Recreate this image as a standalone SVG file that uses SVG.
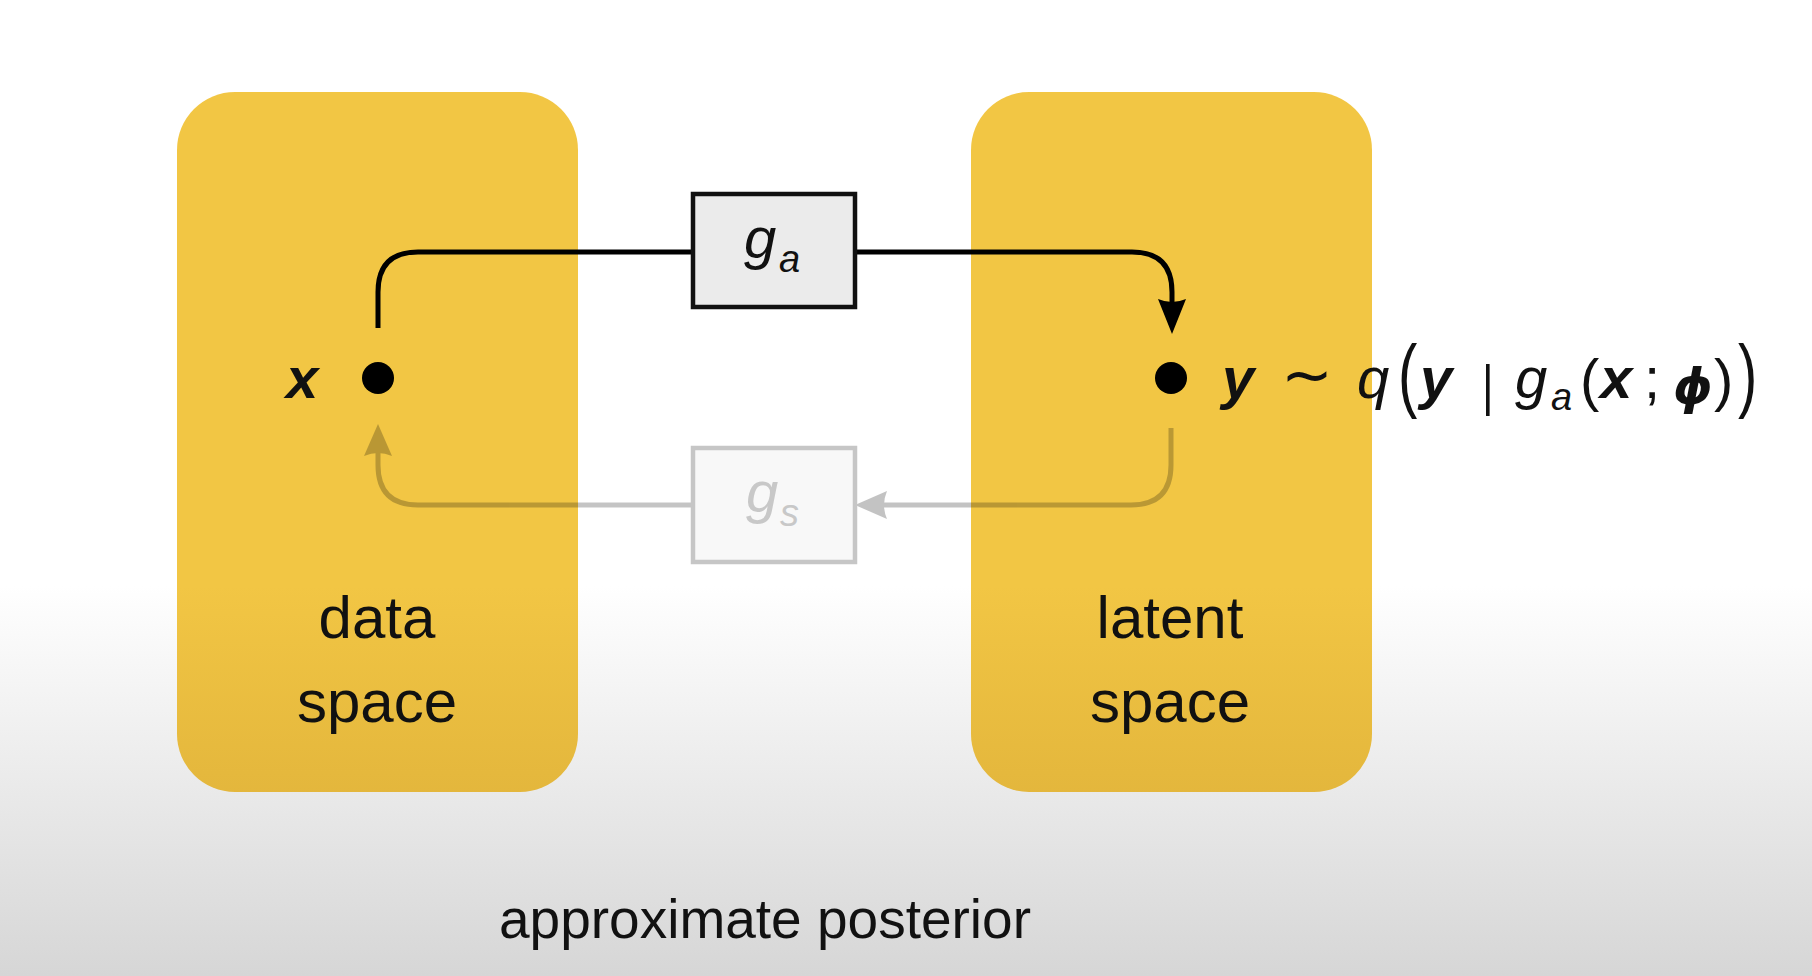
<svg xmlns="http://www.w3.org/2000/svg" width="1812" height="976" viewBox="0 0 1812 976">
<defs>
<linearGradient id="bg" gradientUnits="userSpaceOnUse" x1="0" y1="0" x2="0" y2="976">
<stop offset="0" stop-color="#ffffff"/>
<stop offset="0.6" stop-color="#ffffff"/>
<stop offset="1" stop-color="#d6d6d6"/>
</linearGradient>
<linearGradient id="yel" gradientUnits="userSpaceOnUse" x1="0" y1="0" x2="0" y2="976">
<stop offset="0" stop-color="#f2c644"/>
<stop offset="0.6" stop-color="#f2c644"/>
<stop offset="0.82" stop-color="#e3b63c"/>
<stop offset="1" stop-color="#d9ad36"/>
</linearGradient>
<style>
.space{fill:url(#yel);}
.lbl{font-family:"Liberation Sans",Arial,sans-serif;font-size:60px;fill:#111;text-anchor:middle;}
.math{font-family:"Liberation Sans",Arial,sans-serif;font-size:58px;fill:#111;}
.it{font-style:italic;}
.bi{font-style:italic;font-weight:bold;}
.dot{fill:#000;}
.line{fill:none;stroke:#000;stroke-width:5;}
.head{fill:#000;}
</style>
</defs>
<rect x="0" y="0" width="1812" height="976" fill="url(#bg)"/>

<g id="data-space">
<rect class="space" x="177" y="92" width="401" height="700" rx="58" ry="58"/>
<text class="lbl" x="377" y="638">data</text>
<text class="lbl" x="377" y="722">space</text>
</g>

<g id="latent-space">
<rect class="space" x="971" y="92" width="401" height="700" rx="58" ry="58"/>
<text class="lbl" x="1170" y="638">latent</text>
<text class="lbl" x="1170" y="722">space</text>
</g>

<g id="connectors">
<g id="encode">
<path class="line" d="M378,328 V292 Q378,252 418,252 H693"/>
<path class="line" d="M855,252 H1132 Q1172,252 1172,292 V304"/>
<path class="head" d="M1172,334 L1158,299 Q1172,305 1186,299 Z"/>
</g>
<g id="decode" opacity="0.23">
<path class="line" d="M1171,428 V465 Q1171,505 1131,505 H882"/>
<path class="head" d="M855,505 L887,491 Q881,505 887,519 Z"/>
<path class="line" d="M693,505 H418 Q378,505 378,465 V452"/>
<path class="head" d="M378,424 L364,456 Q378,450 392,456 Z"/>
</g>
</g>

<g id="ga">
<rect x="693" y="194" width="162" height="113" fill="#ebebeb" stroke="#111" stroke-width="4.5"/>
<text class="math" x="744" y="258"><tspan class="it">g</tspan><tspan class="it" x="779" y="272" font-size="38">a</tspan></text>
</g>

<g id="gs">
<rect x="693" y="448" width="162" height="114" fill="#f8f8f8" stroke="#c6c6c6" stroke-width="4.5"/>
<text class="math" x="746" y="512" style="fill:#c8c8c8"><tspan class="it">g</tspan><tspan class="it" x="780" y="526" font-size="38">s</tspan></text>
</g>

<g id="x-node">
<circle class="dot" cx="378" cy="378" r="16"/>
<text class="math bi" x="286" y="398">x</text>
</g>

<g id="y-node">
<circle class="dot" cx="1171" cy="378" r="16"/>
<text class="math" y="398"><tspan class="bi" x="1222">y</tspan><tspan x="1281" y="396" font-family="DejaVu Sans, sans-serif" font-size="62">∼</tspan><tspan class="it" x="1357" y="398">q</tspan><tspan class="it" x="1515" y="398">g</tspan><tspan class="it" x="1551" y="410" font-size="38">a</tspan><tspan x="1580" y="400">(</tspan><tspan class="bi" x="1600" y="398">x</tspan><tspan x="1644" y="398">;</tspan><tspan x="1714" y="400">)</tspan></text>
<text class="math bi" x="1420" y="398">y</text>
<text class="math" transform="translate(1482,404) scale(0.8,1)" style="font-size:56px">|</text>
<text class="math" x="1673" y="404" style="font-family:'DejaVu Sans',sans-serif;font-weight:bold;font-style:oblique;font-size:50px">ϕ</text>
<text class="math" transform="translate(1398,402) scale(1,1.4)">(</text>
<text class="math" transform="translate(1738,402) scale(1,1.4)">)</text>
</g>

<text x="765" y="938" style="font-family:'Liberation Sans',Arial,sans-serif;font-size:55px;fill:#111;text-anchor:middle">approximate posterior</text>
</svg>
